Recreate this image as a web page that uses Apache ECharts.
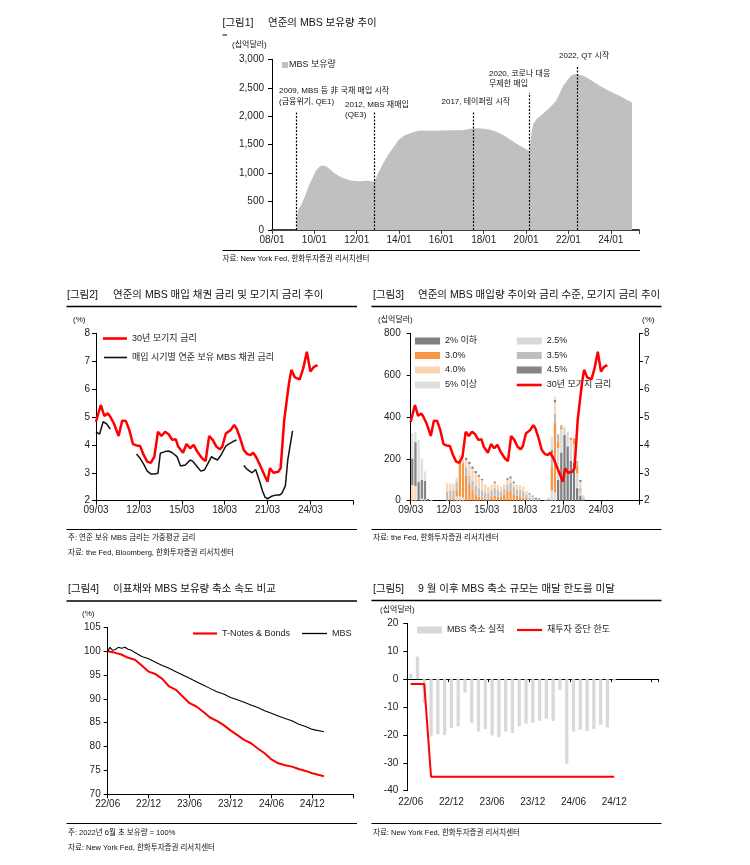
<!DOCTYPE html>
<html><head><meta charset="utf-8">
<script src="https://cdn.jsdelivr.net/npm/echarts/dist/echarts.min.js"></script>
<style>html,body{margin:0;padding:0;background:#fff;}#c{width:750px;height:865px;}</style>
</head><body><div id="c"></div>
<script>
const FONT = '"Liberation Sans", "Noto Sans CJK KR", sans-serif';

// ---------- 그림1: 연준 MBS 보유량 (십억달러) ----------
const holdingDates = ['2009-03','2009-04','2009-06','2009-08','2009-10','2009-12','2010-02','2010-04','2010-06','2010-08','2010-10','2010-12','2011-03','2011-06','2011-09','2011-12','2012-03','2012-06','2012-09','2012-11','2013-01','2013-04','2013-07','2013-10','2014-01','2014-04','2014-07','2014-10','2015-01','2015-06','2016-01','2016-06','2017-01','2017-06','2017-10','2018-01','2018-04','2018-07','2018-10','2019-01','2019-04','2019-07','2019-10','2020-01','2020-03','2020-04','2020-05','2020-07','2020-10','2021-01','2021-04','2021-06','2021-08','2021-10','2022-01','2022-03','2022-05','2022-07','2022-10','2023-01','2023-04','2023-07','2023-10','2024-01','2024-04','2024-07','2024-10','2025-01'];
const holdingValues = [220,360,470,620,790,920,1050,1115,1135,1115,1065,1005,950,905,875,860,858,865,860,850,990,1170,1330,1460,1590,1660,1695,1725,1748,1745,1750,1752,1755,1782,1788,1780,1765,1740,1700,1650,1590,1530,1470,1420,1385,1700,1860,1950,2030,2110,2200,2270,2400,2530,2660,2725,2740,2735,2700,2650,2590,2530,2480,2430,2385,2340,2290,2240];
const eventDates = ['2009-03','2012-11','2017-07','2020-03','2022-06'];
const eventTops = [2080,2070,2080,2410,2880];

// ---------- 그림2/3: 금리 (%) ----------
const mortgageDates = ['2009-03','2009-07','2009-10','2010-01','2010-03','2010-06','2010-10','2011-01','2011-04','2011-07','2011-10','2012-01','2012-04','2012-07','2012-10','2013-01','2013-04','2013-07','2013-10','2014-01','2014-04','2014-07','2014-10','2014-12','2015-04','2015-07','2015-10','2016-01','2016-04','2016-08','2016-11','2017-02','2017-05','2017-08','2017-11','2018-01','2018-04','2018-08','2018-11','2019-01','2019-04','2019-07','2019-10','2020-01','2020-03','2020-06','2020-09','2020-12','2021-03','2021-05','2021-08','2021-12','2022-02','2022-05','2022-09','2022-11','2023-02','2023-06','2023-09','2023-12','2024-03','2024-06','2024-09'];
const mortgageRates = [4.83,5.43,5.04,5.13,5.01,4.77,4.32,4.87,4.86,4.53,4.03,3.98,3.96,3.64,3.40,3.36,3.58,4.47,4.32,4.47,4.38,4.18,4.20,3.94,3.72,4.03,3.88,4.00,3.76,3.52,3.42,4.32,4.18,3.94,3.84,3.94,4.41,4.53,4.71,4.59,4.24,3.82,3.67,3.64,3.72,3.52,3.24,2.96,2.68,3.16,3.00,3.04,3.16,4.89,6.21,6.69,6.42,6.35,6.75,7.34,6.63,6.80,6.86];
const couponDates1 = ['2009-03','2009-06','2009-09','2009-12','2010-03'];
const couponRates1 = [4.47,4.39,4.83,4.75,4.57];
const couponDates2 = ['2012-01','2012-04','2012-07','2012-10','2013-01','2013-04','2013-07','2013-09','2014-01','2014-04','2014-07','2014-11','2015-02','2015-06','2015-10','2015-12','2016-04','2016-07','2016-10','2017-01','2017-04','2017-06','2017-09','2017-12','2018-04','2018-06','2018-10','2019-01'];
const couponRates2 = [3.67,3.52,3.31,3.06,2.96,2.96,2.98,3.70,3.76,3.78,3.72,3.58,3.24,3.28,3.46,3.42,3.22,3.06,3.10,3.34,3.58,3.52,3.46,3.64,3.96,4.02,4.12,4.18];
const couponDates3 = ['2019-07','2019-10','2020-02','2020-05','2020-08','2020-11','2021-01','2021-03','2021-07','2021-10','2022-01','2022-03','2022-06','2022-08','2022-12'];
const couponRates3 = [3.26,3.12,3.00,3.12,2.74,2.32,2.12,2.07,2.17,2.20,2.20,2.26,2.54,3.46,4.50];

// 그림3: 분기별 MBS 매입량 (십억달러), 쿠폰별
const purchaseQuarters = ['2009-03','2009-06','2009-09','2009-12','2010-03','2010-06','2010-09','2010-12','2011-03','2011-06','2011-09','2011-12','2012-03','2012-06','2012-09','2012-12','2013-03','2013-06','2013-09','2013-12','2014-03','2014-06','2014-09','2014-12','2015-03','2015-06','2015-09','2015-12','2016-03','2016-06','2016-09','2016-12','2017-03','2017-06','2017-09','2017-12','2018-03','2018-06','2018-09','2018-12','2019-03','2019-06','2019-09','2019-12','2020-03','2020-06','2020-09','2020-12','2021-03','2021-06','2021-09','2021-12','2022-03','2022-06','2022-09'];
const buyUpTo2 = [0,0,0,0,0,0,0,0,0,0,0, 0,0,0,0,0,0,0,0,0,0,0,0,0,0,0,0,0,0,0,0,0,0,0,0,0,0,0,0,0,0,0,0,0, 0,0,100,230,315,260,190,180,60,25,5];
const buy25 = [0,0,0,0,0,0,0,0,0,0,0, 0,0,0,20,20,15,0,0,0,0,0,0,0,0,0,0,0,0,0,0,0,0,0,0,0,0,0,0,0,0,0,0,0, 50,40,150,110,39,70,100,90,70,15,0];
const buy30 = [0,0,0,0,0,0,0,0,0,0,0, 0,10,15,30,175,160,120,80,50,30,20,15,10,10,20,25,20,20,30,45,50,30,25,20,15,8,0,0,0,0,0,0,0, 111,335,30,12,0,0,11,28,40,0,0];
const buy35 = [0,0,0,0,0,0,0,0,0,0,0, 45,40,35,40,0,10,40,40,45,40,40,35,30,25,30,35,30,25,25,30,35,35,28,30,27,20,15,12,8,6,0,4,8, 65,40,37,10,0,0,0,0,20,20,10];
const buy40 = [75,70,0,10,5,0,0,0,0,0,0, 38,33,30,20,23,14,35,55,58,62,55,48,38,32,28,25,25,22,23,25,22,20,25,25,25,18,15,8,0,0,0,0,7, 0,55,0,0,0,0,0,0,0,30,12];
const buy45 = [127,210,90,90,90,8,0,0,0,0,0, 0,0,0,0,0,0,10,11,10,10,8,6,0,0,0,6,0,0,0,7,8,6,0,0,0,0,5,4,6,5,0,0,0, 16,12,0,0,0,0,0,0,0,9,0];
const buy5up = [120,50,200,100,45,0,5,0,0,0,0, 0,0,0,0,0,0,0,0,0,0,0,0,0,0,0,0,0,0,0,0,0,0,0,0,0,0,0,0,0,0,0,0,0, 64,15,0,0,0,0,0,0,0,0,0];

// ---------- 그림4: 보유량 지수 (2022년 6월 초 = 100) ----------
const tnoteDates = ['2022-06-01','2022-07-01','2022-08-01','2022-09-01','2022-10-01','2022-11-01','2022-12-01','2023-01-01','2023-02-01','2023-03-01','2023-04-01','2023-05-01','2023-06-01','2023-07-01','2023-08-01','2023-09-01','2023-10-01','2023-11-01','2023-12-01','2024-01-01','2024-02-01','2024-03-01','2024-04-01','2024-05-01','2024-06-01','2024-07-01','2024-08-01','2024-09-01','2024-10-01','2024-11-01','2024-12-01','2025-01-22'];
const tnoteIndex = [100,99.7,99.3,98.6,98.2,97.0,95.7,95.2,94.2,92.6,91.9,90.5,89.1,88.4,87.3,86.1,85.4,84.5,83.4,82.4,81.4,80.7,79.6,78.6,77.3,76.5,76.1,75.8,75.3,74.9,74.4,73.8];
const mbsIdxDates = ['2022-06-01','2022-06-11','2022-06-22','2022-07-03','2022-07-18','2022-08-02','2022-08-17','2022-09-01','2022-09-15','2022-10-01','2022-11-01','2022-12-01','2023-01-01','2023-02-01','2023-03-01','2023-04-01','2023-05-01','2023-06-01','2023-07-01','2023-08-01','2023-09-01','2023-10-01','2023-11-01','2023-12-01','2024-01-01','2024-02-01','2024-03-01','2024-04-01','2024-05-01','2024-06-01','2024-07-01','2024-08-01','2024-09-01','2024-10-01','2024-11-01','2024-12-01','2025-01-22'];
const mbsIndex = [100,100.8,100.2,100.3,100.8,100.6,100.8,100.4,100.2,99.7,98.9,98.4,97.7,97.0,96.4,95.7,95.0,94.3,93.6,92.9,92.2,91.5,91.0,90.3,89.8,89.3,88.7,88.2,87.5,87.0,86.4,85.9,85.4,84.7,84.2,83.6,83.1];

// ---------- 그림5: 월별 MBS 축소 (십억달러) ----------
const fig5Months = ['22/06','22/07','22/08','22/09','22/10','22/11','22/12','23/01','23/02','23/03','23/04','23/05','23/06','23/07','23/08','23/09','23/10','23/11','23/12','24/01','24/02','24/03','24/04','24/05','24/06','24/07','24/08','24/09','24/10','24/11','24/12','25/01','25/02','25/03','25/04','25/05','25/06'];
const mbsRunoff = [1.9,8.1,-8.5,-20.6,-19.8,-20,-17.6,-17,-4.8,-15.8,-18.8,-17.9,-20.2,-20.8,-18.8,-19.3,-17,-16,-15.6,-14.9,-14.2,-15,-3.9,-30.4,-18.8,-18.1,-18.6,-17.9,-16.4,-17.3,-0.5];
const runoffCap = [-1.8,-1.8,-1.8,-35,-35,-35,-35,-35,-35,-35,-35,-35,-35,-35,-35,-35,-35,-35,-35,-35,-35,-35,-35,-35,-35,-35,-35,-35,-35,-35,-35];

// ---------- helpers ----------
function mo(base, s) {
  const b = base.split('-').map(Number), p = s.split('-').map(Number);
  return (p[0]-b[0])*12 + (p[1]-b[1]) + (p.length > 2 ? (p[2]-1)/30.4 : 0);
}
function lab(base, step, max) {
  const b = base.split('-').map(Number);
  return v => {
    if (Math.abs(v % step) > 1e-6 || v >= max - 1e-6) return '';
    const t = b[1] - 1 + Math.round(v);
    const y = b[0] + Math.floor(t/12), m = t % 12 + 1;
    return String(y % 100).padStart(2,'0') + '/' + String(m).padStart(2,'0');
  };
}
const pairs = (base, dates, vals) => dates.map((d,i) => [mo(base, d), vals[i]]);

const TXT = '#222';
function vAxisX(grid, max, interval, fmt, extra) {
  return Object.assign({
    gridIndex: grid, type: 'value', min: 0, max, interval,
    axisLine: {show: true, onZero: false, lineStyle: {color: '#000', width: 1}},
    axisTick: {show: true, length: 4, lineStyle: {color: '#000'}},
    axisLabel: {formatter: fmt, margin: 5, fontSize: 10, color: TXT, fontFamily: FONT},
    splitLine: {show: false}
  }, extra || {});
}
function vAxisY(grid, min, max, interval, extra, labelExtra) {
  return Object.assign({
    gridIndex: grid, type: 'value', min, max, interval,
    axisLine: {show: true, onZero: false, lineStyle: {color: '#000', width: 1}},
    axisTick: {show: true, length: 4, lineStyle: {color: '#000'}},
    axisLabel: Object.assign({margin: 7, fontSize: 10, color: TXT, fontFamily: FONT}, labelExtra || {}),
    splitLine: {show: false}
  }, extra || {});
}

function txt(x, y, text, size, extra) {
  return {type: 'text', x, y, silent: true, z: 100,
    style: Object.assign({text, fill: '#111', fontSize: size, fontFamily: FONT, verticalAlign: 'middle', align: 'left'}, extra || {})};
}
function hline(x1, x2, y, w) {
  return {type: 'line', silent: true, z: 100, shape: {x1, y1: y, x2, y2: y}, style: {stroke: '#000', lineWidth: w}};
}
function legendAt(name, left, cy, w, h) {
  return {data: [name], left, top: cy - 6, padding: 0, itemWidth: w, itemHeight: h, selectedMode: false,
    icon: 'rect',
    textStyle: {fontSize: 9, color: TXT, fontFamily: FONT, lineHeight: 12}};
}

const chart = echarts.init(document.getElementById('c'), null, {renderer: 'canvas'});

// hidden quarterly slots spanning the 09/03 – 27/03 axis (72 quarters)
const quarterSlots = purchaseQuarters.slice();
while (quarterSlots.length < 72) quarterSlots.push('q' + quarterSlots.length);

const barDefs = [
  ['2% 이하', buyUpTo2, '#7f7f7f'],
  ['2.5%', buy25, '#d9d9d9'],
  ['3.0%', buy30, '#f79646'],
  ['3.5%', buy35, '#bfbfbf'],
  ['4.0%', buy40, '#fbd4b4'],
  ['4.5%', buy45, '#858585'],
  ['5% 이상', buy5up, '#dedede']
];

const option = {
  animation: false,
  backgroundColor: '#fff',
  grid: [
    {left: 272, top: 59.3, width: 367, height: 170.7},
    {left: 96, top: 333.3, width: 257.3, height: 167.4},
    {left: 410.7, top: 333.3, width: 228.3, height: 167.4},
    {left: 107.7, top: 627.3, width: 245.6, height: 167},
    {left: 407.3, top: 623.3, width: 251, height: 167.4}
  ],
  xAxis: [
    vAxisX(0, 208, 24, lab('2008-01', 24, 208), {
      axisLine: {show: true, onZero: false, lineStyle: {color: '#404040', width: 2}},
      axisTick: {show: true, length: 4, lineStyle: {color: '#404040'}}}),
    vAxisX(1, 216, 36, lab('2009-03', 36, 216)),
    vAxisX(2, 216, 36, lab('2009-03', 36, 216)),
    vAxisX(3, 36, 6, lab('2022-06', 6, 36)),
    {gridIndex: 4, type: 'category', data: fig5Months, position: 'bottom', boundaryGap: true,
      axisLine: {show: false, onZero: false}, axisTick: {show: false},
      axisLabel: {interval: 5, margin: 7, fontSize: 10, color: TXT, fontFamily: FONT,
        formatter: (v, i) => (i >= 36 ? '' : v)}},
    {gridIndex: 4, type: 'category', data: fig5Months, position: 'bottom', boundaryGap: true,
      axisLine: {show: true, onZero: true, lineStyle: {color: '#000', width: 1.2}},
      axisTick: {show: true, interval: 5, length: 3, lineStyle: {color: '#000'}},
      axisLabel: {show: false}},
    {gridIndex: 2, type: 'category', data: quarterSlots, show: false, boundaryGap: true,
      axisLine: {show: false, onZero: false}}
  ],
  yAxis: [
    vAxisY(0, 0, 3000, 500, null, {formatter: v => v.toLocaleString('en-US'), margin: 8}),
    vAxisY(1, 2, 8, 1, null, {margin: 6}),
    vAxisY(2, 0, 800, 200, null, {margin: 10}),
    vAxisY(2, 2, 8, 1, {position: 'right'}, {margin: 5}),
    vAxisY(3, 70, 105, 5, null, {margin: 7}),
    vAxisY(4, -40, 20, 10, null, {margin: 9})
  ],
  legend: [
    Object.assign(legendAt('MBS 보유량', 282, 65, 6, 6), {textStyle: {fontSize: 9, color: TXT, fontFamily: FONT, lineHeight: 12, padding: [0,0,0,-4]}}),
    legendAt('30년 모기지 금리', 103, 338.5, 24, 2.6),
    legendAt('매입 시기별 연준 보유 MBS 채권 금리', 104, 357.5, 23, 1.6),
    legendAt('2% 이하', 415, 341, 25, 7),
    legendAt('2.5%', 516.7, 341, 25, 7),
    legendAt('3.0%', 415, 355.5, 25, 7),
    legendAt('3.5%', 516.7, 355.5, 25, 7),
    legendAt('4.0%', 415, 370, 25, 7),
    legendAt('4.5%', 516.7, 370, 25, 7),
    legendAt('5% 이상', 415, 385, 25, 7),
    legendAt('30년 모기지 금리 ', 516.7, 385, 25, 2.6),
    legendAt('T-Notes & Bonds', 193, 633.5, 24, 2.2),
    legendAt('MBS', 302, 633.5, 25, 1.3),
    legendAt('MBS 축소 실적', 417, 630, 25, 7),
    legendAt('재투자 중단 한도', 517, 630, 25, 2.2)
  ],
  series: [
    {type: 'line', name: 'MBS 보유량', xAxisIndex: 0, yAxisIndex: 0, symbol: 'none',
      data: pairs('2008-01', holdingDates, holdingValues),
      itemStyle: {color: '#c0c0c0'}, lineStyle: {width: 0, color: '#c0c0c0'},
      areaStyle: {color: '#c0c0c0', opacity: 1},
      markLine: {silent: true, symbol: 'none', label: {show: false},
        lineStyle: {color: '#000', type: [2, 1.5], width: 1.2},
        data: eventDates.map((d, i) => [{coord: [mo('2008-01', d), 0]}, {coord: [mo('2008-01', d), eventTops[i]]}])}},

    {type: 'line', name: '30년 모기지 금리', xAxisIndex: 1, yAxisIndex: 1, symbol: 'none', z: 5,
      data: pairs('2009-03', mortgageDates, mortgageRates),
      itemStyle: {color: '#ff0000'}, lineStyle: {color: '#ff0000', width: 2.5}},
    ...[[couponDates1, couponRates1], [couponDates2, couponRates2], [couponDates3, couponRates3]].map(([d, r]) => ({
      type: 'line', name: '매입 시기별 연준 보유 MBS 채권 금리', xAxisIndex: 1, yAxisIndex: 1, symbol: 'none',
      data: pairs('2009-03', d, r), itemStyle: {color: '#111'}, lineStyle: {color: '#111', width: 1.5}})),

    ...barDefs.map(([name, arr, color]) => ({
      type: 'bar', name, xAxisIndex: 6, yAxisIndex: 2, stack: 'buy', barWidth: 2.3,
      data: arr, itemStyle: {color}})),
    {type: 'line', name: '30년 모기지 금리 ', xAxisIndex: 2, yAxisIndex: 3, symbol: 'none', z: 5,
      data: pairs('2009-03', mortgageDates, mortgageRates),
      itemStyle: {color: '#ff0000'}, lineStyle: {color: '#ff0000', width: 2.5}},

    {type: 'line', name: 'T-Notes & Bonds', xAxisIndex: 3, yAxisIndex: 4, symbol: 'none',
      data: pairs('2022-06', tnoteDates, tnoteIndex),
      itemStyle: {color: '#ff0000'}, lineStyle: {color: '#ff0000', width: 2}},
    {type: 'line', name: 'MBS', xAxisIndex: 3, yAxisIndex: 4, symbol: 'none',
      data: pairs('2022-06', mbsIdxDates, mbsIndex),
      itemStyle: {color: '#000'}, lineStyle: {color: '#000', width: 1.1}},

    {type: 'bar', name: 'MBS 축소 실적', xAxisIndex: 4, yAxisIndex: 5, barWidth: 3.3,
      data: mbsRunoff, itemStyle: {color: '#d9d9d9'}},
    {type: 'line', name: '재투자 중단 한도', xAxisIndex: 4, yAxisIndex: 5, symbol: 'none', z: 5,
      data: runoffCap, itemStyle: {color: '#ff0000'}, lineStyle: {color: '#ff0000', width: 2}}
  ],
  graphic: {elements: [
    // 그림1
    txt(222.5, 23, '[그림1]', 10.5), txt(268, 23, '연준의 MBS 보유량 추이', 10.5),
    hline(222.5, 227, 35, 1),
    txt(232, 45, '(십억달러)', 8),
    txt(279, 91, '2009, MBS 등 非 국채 매입 시작', 8),
    txt(279, 101.5, '(금융위기, QE1)', 8),
    txt(345, 104.5, '2012, MBS 재매입', 8),
    txt(345, 115, '(QE3)', 8),
    txt(441.5, 101.5, '2017, 테이퍼링 시작', 8),
    txt(489, 73.5, '2020, 코로나 대응', 8),
    txt(489, 83.5, '무제한 매입', 8),
    txt(559, 55.5, '2022, QT 시작', 8),
    hline(222.5, 640, 250.5, 1),
    txt(222.5, 258.5, '자료: New York Fed, 한화투자증권 리서치센터', 7.5),
    // 그림2
    txt(67, 295, '[그림2]', 10.5), txt(113, 295, '연준의 MBS 매입 채권 금리 및 모기지 금리 추이', 10.5),
    hline(66.5, 357, 306.5, 1.3),
    txt(73, 320, '(%)', 8),
    hline(66.5, 357, 529.5, 1),
    txt(68, 538, '주: 연준 보유 MBS 금리는 가중평균 금리', 7.5),
    txt(68, 553, '자료: the Fed, Bloomberg, 한화투자증권 리서치센터', 7.5),
    // 그림3
    txt(373, 295, '[그림3]', 10.5), txt(418, 295, '연준의 MBS 매입량 추이와 금리 수준, 모기지 금리 추이', 10.5),
    hline(371.5, 661.5, 306.5, 1.3),
    txt(378, 320, '(십억달러)', 8),
    txt(642, 320, '(%)', 8),
    hline(371.5, 661.5, 529.5, 1),
    txt(373, 538, '자료: the Fed, 한화투자증권 리서치센터', 7.5),
    // 그림4
    txt(68, 589, '[그림4]', 10.5), txt(113, 589, '이표채와 MBS 보유량 축소 속도 비교', 10.5),
    hline(66.5, 357, 601, 1.3),
    txt(82, 613.5, '(%)', 8),
    hline(66.5, 357, 823.5, 1),
    txt(68, 833, '주: 2022년 6월 초 보유량 = 100%', 7.5),
    txt(68, 848, '자료: New York Fed, 한화투자증권 리서치센터', 7.5),
    // 그림5
    txt(373, 589, '[그림5]', 10.5), txt(418, 589, '9 월 이후 MBS 축소 규모는 매달 한도를 미달', 10.5),
    hline(371.5, 661.5, 600.5, 1.3),
    txt(380, 610, '(십억달러)', 8),
    hline(371.5, 661.5, 823.5, 1),
    txt(373, 833, '자료: New York Fed, 한화투자증권 리서치센터', 7.5)
  ]}
};
chart.setOption(option);
</script></body></html>
